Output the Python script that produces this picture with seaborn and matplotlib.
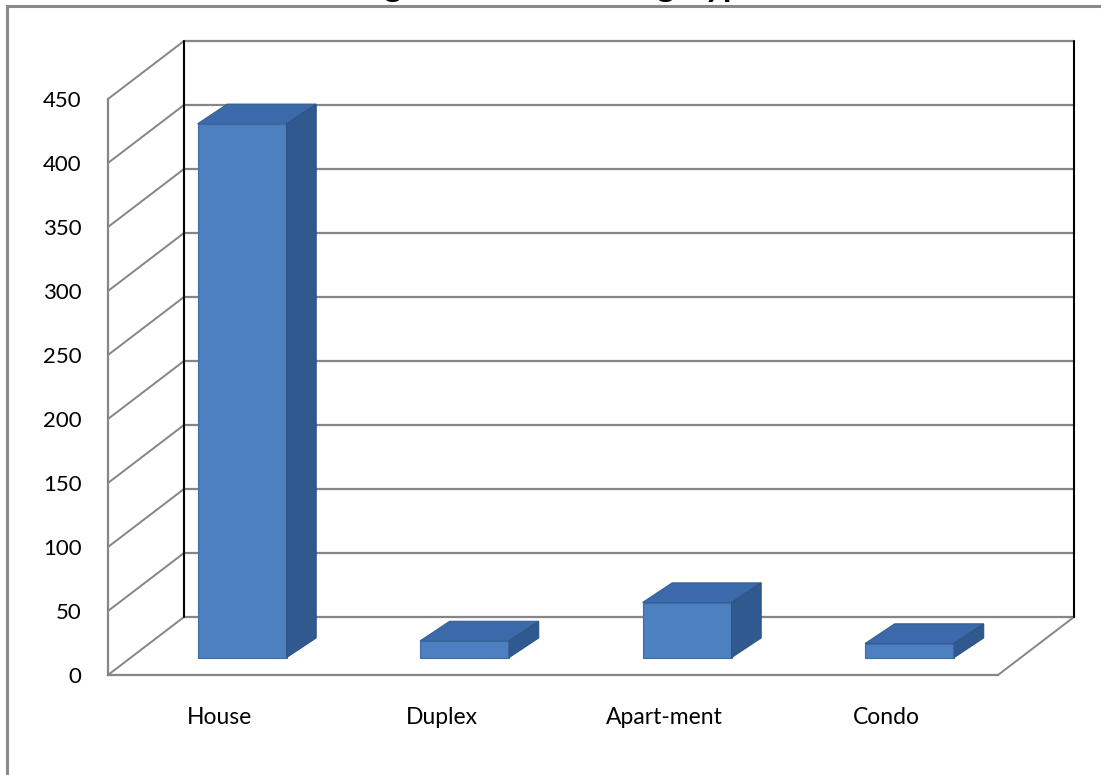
import matplotlib
matplotlib.use("Agg")
import matplotlib.pyplot as plt
from matplotlib.patches import Polygon, Rectangle
import seaborn as sns

# Housing counts by dwelling type
categories = ["House", "Duplex", "Apart-ment", "Condo"]
units = [417, 13, 43, 11]
y_ticks = [0, 50, 100, 150, 200, 250, 300, 350, 400, 450]
title = "Housing Units in Dwelling Type"

W, H, DPI = 1101, 775, 100
sns.set_style("white")
plt.rcParams["font.family"] = ["Lato", "DejaVu Sans"]

fig = plt.figure(figsize=(W / DPI, H / DPI), dpi=DPI)
fig.patch.set_facecolor("white")

# front plane of the 3-D box (pixel box -> figure fractions)
left, right, bottom_px, top_px = 108, 998, 675, 99
ax = fig.add_axes([left / W, (H - bottom_px) / H, (right - left) / W, (bottom_px - top_px) / H])
ax.set_xlim(-0.5, 3.5)
ax.set_ylim(0, 450)
ax.set_facecolor("none")

# depth of the box expressed in data units (76 px right, 58 px up)
DX = 76 / ((right - left) / 4)
DY = 58 / ((bottom_px - top_px) / 450)

GRID = "#868686"
x0, x1 = -0.5, 3.5

# back wall: gridlines and vertical edges
for v in y_ticks:
    ax.plot([x0 + DX, x1 + DX], [v + DY, v + DY], color=GRID, lw=1.6, zorder=1, clip_on=False)
    # side wall diagonals
    ax.plot([x0, x0 + DX], [v, v + DY], color=GRID, lw=1.4, zorder=1, clip_on=False)
for xe in (x0 + DX, x1 + DX):
    ax.plot([xe, xe], [DY, 450 + DY], color="black", lw=1.5, zorder=1.5, clip_on=False)
# floor right edge
ax.plot([x1, x1 + DX], [0, DY], color=GRID, lw=1.4, zorder=1, clip_on=False)

# front faces of the bars via seaborn
sns.barplot(x=categories, y=units, ax=ax, width=0.4, color="#4C80C0",
            saturation=1, edgecolor="#3F6DA6", linewidth=0.8, zorder=3)

f0, f1 = 0.30, 0.69  # bar front / back depth fractions
for p in ax.patches:
    bx, bw, v = p.get_x(), p.get_width(), p.get_height()
    bx += f0 * DX
    by = f0 * DY
    p.set_xy((bx, by))
    p.set_clip_on(False)
    d = (f1 - f0) * DX
    dd = (f1 - f0) * DY * 0.87
    top = Polygon([(bx, by + v), (bx + bw, by + v), (bx + bw + d, by + v + dd), (bx + d, by + v + dd)],
                  closed=True, facecolor="#3C69A9", edgecolor="#345E96", lw=0.8, zorder=3, clip_on=False)
    side = Polygon([(bx + bw, by), (bx + bw, by + v), (bx + bw + d, by + v + dd), (bx + bw + d, by + dd)],
                   closed=True, facecolor="#30598F", edgecolor="#2C5487", lw=0.8, zorder=3, clip_on=False)
    ax.add_patch(top)
    ax.add_patch(side)

# axes: front value axis and floor edge
for s in ("top", "right"):
    ax.spines[s].set_visible(False)
for s in ("left", "bottom"):
    ax.spines[s].set_color(GRID)
    ax.spines[s].set_linewidth(1.6)
    ax.spines[s].set_zorder(2)

ax.set_yticks(y_ticks)
ax.set_yticklabels([str(t) for t in y_ticks])
ax.tick_params(axis="y", direction="out", length=6, width=1.4, color=GRID,
               pad=13, labelsize=16, labelcolor="black")

ax.set_xticks([-0.5, 0.5, 1.5, 2.5, 3.5])
ax.set_xticklabels([])
ax.set_xticks([0, 1, 2, 3], minor=True)
ax.set_xticklabels(categories, minor=True)
ax.tick_params(axis="x", which="major", direction="out", length=6, width=1.4, color=GRID)
ax.tick_params(axis="x", which="minor", length=0, pad=23, labelsize=16.5, labelcolor="black")
ax.set_xlabel("")
ax.set_ylabel("")

# chart border
fig.patches.append(Rectangle((7 / W, -0.2), 1.5, 1.2 - 6 / H, transform=fig.transFigure,
                             fill=False, edgecolor="#8A8A8A", lw=2.2, zorder=0))

# chart title above the frame
fig.text(0.47, 1.0 + 4 / H, title, ha="center", va="baseline",
         fontsize=25, fontweight="bold", color="black")

fig.savefig("out.png", dpi=DPI, facecolor="white")
